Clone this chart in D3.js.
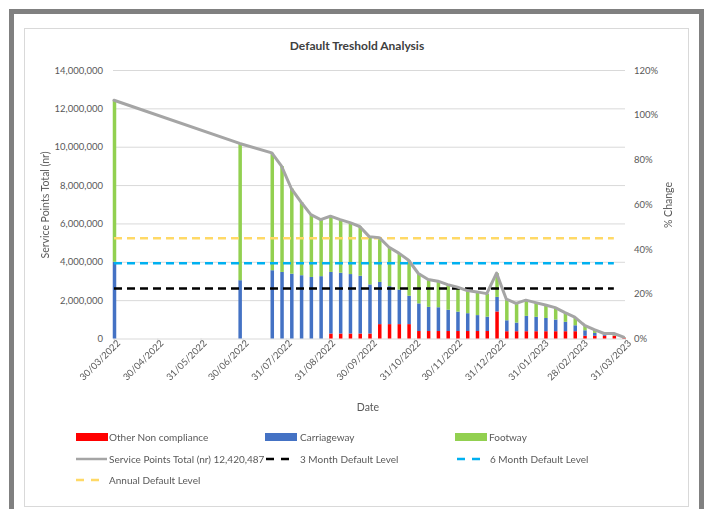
<!DOCTYPE html>
<html><head><meta charset="utf-8">
<script src="https://cdn.jsdelivr.net/npm/d3@7"></script>
<style>
html,body{margin:0;padding:0;background:#fff;}
svg{display:block;font-family:Lato,"Open Sans",sans-serif;}
.xlab text{fill:#595959;}
</style></head><body>
<svg id="chart" width="709" height="509"></svg>
<script>
// ---------- DATA ----------
const dates = ["2022-03-30","2022-06-28","2022-07-21","2022-07-28","2022-08-04","2022-08-11","2022-08-18","2022-08-25",
  "2022-09-01","2022-09-08","2022-09-15","2022-09-22","2022-09-29","2022-10-06","2022-10-13","2022-10-20","2022-10-27",
  "2022-11-03","2022-11-10","2022-11-17","2022-11-24","2022-12-01","2022-12-08","2022-12-15","2022-12-22","2022-12-29",
  "2023-01-05","2023-01-12","2023-01-19","2023-01-26","2023-02-02","2023-02-09","2023-02-16","2023-02-23",
  "2023-03-02","2023-03-09","2023-03-16","2023-03-23","2023-03-30"];
const otherNonCompliance = [0,0,0,0,0,0,0,0,
  260000,260000,260000,260000,260000,750000,750000,750000,750000,
  390000,390000,390000,390000,390000,390000,390000,390000,1410000,
  380000,380000,380000,380000,380000,380000,380000,380000,
  140000,140000,140000,140000,30000];
const carriageway = [4000000,3040000,3560000,3470000,3380000,3300000,3210000,3250000,
  3210000,3170000,3100000,3010000,2560000,2200000,1980000,1800000,1480000,
  1440000,1260000,1240000,1110000,1010000,930000,830000,750000,760000,
  570000,450000,800000,750000,690000,610000,490000,310000,
  290000,150000,60000,20000,20000];
const footway = [8420487,7130000,6120000,5520000,4440000,3810000,3250000,2950000,
  2910000,2770000,2680000,2570000,2480000,2310000,2030000,1900000,1850000,
  1560000,1430000,1360000,1310000,1280000,1180000,1210000,1200000,1240000,
  1100000,1000000,820000,740000,680000,620000,480000,420000,
  260000,170000,60000,100000,20000];
const levelDates = ["2022-03-30","2023-03-23"];
const threeMonthLevel = 2610000;
const sixMonthLevel = 3930000;
const annualLevel = 5230000;
const xTickLabels = ["30/03/2022","30/04/2022","31/05/2022","30/06/2022","31/07/2022","31/08/2022","30/09/2022",
  "31/10/2022","30/11/2022","31/12/2022","31/01/2023","28/02/2023","31/03/2023"];
const leftTicks = [0,2000000,4000000,6000000,8000000,10000000,12000000,14000000];
const rightTicks = [0,0.2,0.4,0.6,0.8,1.0,1.2];
const seriesNames = ["Other Non compliance","Carriageway","Footway"];
const title = "Default Treshold Analysis";

// ---------- SETUP ----------
const parseISO = d3.timeParse("%Y-%m-%d");
const parseDMY = d3.timeParse("%d/%m/%Y");
const svg = d3.select("#chart");
const textCol = "#595959";

const x = d3.scaleTime().domain([parseDMY(xTickLabels[0]), parseDMY(xTickLabels[xTickLabels.length-1])]).range([114, 625]);
const y = d3.scaleLinear().domain([0, 14000000]).range([338.5, 70]);
const y2 = d3.scaleLinear().domain([0, 1.2]).range([338.5, 70]);

const rows = dates.map((d,i)=>({date: parseISO(d), other: otherNonCompliance[i], carriageway: carriageway[i], footway: footway[i]}));
rows.forEach(r => r.total = r.other + r.carriageway + r.footway);

// frames
svg.append("rect").attr("x",0).attr("y",0).attr("width",709).attr("height",509).attr("fill","#fff");
svg.append("rect").attr("x",11.5).attr("y",11.5).attr("width",690).attr("height",530)
  .attr("fill","none").attr("stroke","#808080").attr("stroke-width",5);
svg.append("rect").attr("x",24.5).attr("y",28.5).attr("width",664).attr("height",478)
  .attr("fill","#fff").attr("stroke","#D9D9D9").attr("stroke-width",1);

// title
svg.append("text").attr("x",357).attr("y",50).attr("text-anchor","middle")
  .attr("font-size",12).attr("font-weight","bold").attr("fill","#404040").text(title);

// gridlines
const grid = svg.append("g").attr("transform","translate(113,0)")
  .call(d3.axisLeft(y).tickValues(leftTicks.slice(1)).tickSize(-512).tickFormat(""));
grid.select(".domain").remove();
grid.selectAll("line").attr("stroke","#D9D9D9");

// left axis labels
const ya = svg.append("g").attr("transform","translate(106,0)")
  .call(d3.axisLeft(y).tickValues(leftTicks).tickSize(0).tickFormat(d3.format(",")));
ya.select(".domain").remove();
ya.selectAll("text").attr("font-size",9.5).attr("fill",textCol).attr("font-family","Lato");

// right axis labels
const y2a = svg.append("g").attr("transform","translate(634,0)")
  .call(d3.axisRight(y2).tickValues(rightTicks).tickSize(0).tickFormat(d3.format(".0%")));
y2a.select(".domain").remove();
y2a.selectAll("text").attr("font-size",9.5).attr("fill",textCol).attr("font-family","Lato").attr("x",0);

// x axis
const xa = svg.append("g").attr("class","xlab").attr("transform",`translate(0,${y(0)})`)
  .style("opacity",0.99)
  .call(d3.axisBottom(x).tickValues(xTickLabels.map(parseDMY)).tickSize(5).tickSizeOuter(0).tickFormat(d3.timeFormat("%d/%m/%Y")));
xa.select(".domain").attr("stroke","#D9D9D9").attr("d","M113,0.5H625");
xa.selectAll(".tick line").attr("stroke","#D9D9D9");
xa.selectAll("text").attr("font-size",9.5).attr("fill",textCol).attr("font-family","Lato")
  .attr("text-anchor","end").attr("transform","translate(4,3) rotate(-45)").attr("x",0).attr("y",0).attr("dy","0.35em");

// axis titles
const titles = svg.append("g").style("opacity",0.99).attr("font-size",10.5).attr("fill",textCol);
titles.append("text").attr("transform","translate(49,205) rotate(-90)").attr("text-anchor","middle")
  .text("Service Points Total (nr)");
titles.append("text").attr("transform","translate(672,205) rotate(-90)").attr("text-anchor","middle")
  .text("% Change");
svg.append("text").attr("x",368).attr("y",411).attr("text-anchor","middle")
  .attr("font-size",10.5).attr("fill",textCol).text("Date");

// stacked bars
const colors = {other:"#FF0000", carriageway:"#4472C4", footway:"#92D050"};
const stack = d3.stack().keys(["other","carriageway","footway"])(rows);
const bw = 3.5;
svg.append("g").selectAll("g").data(stack).join("g").attr("fill", s => colors[s.key])
  .selectAll("rect").data(s => s.filter(p => p[1] - p[0] > 0)).join("rect")
  .attr("x", p => x(p.data.date) - bw/2 + 0.5).attr("width", bw)
  .attr("y", p => y(p[1])).attr("height", p => y(p[0]) - y(p[1]));

// default level lines
const levels = [
  {v: annualLevel, c:"#FFD966"},
  {v: sixMonthLevel, c:"#00B0F0"},
  {v: threeMonthLevel, c:"#000000"}
];
levels.forEach(l => {
  svg.append("path").datum(levelDates.map(parseISO))
    .attr("d", d3.line().x(d => x(d)).y(() => y(l.v)))
    .attr("stroke", l.c).attr("stroke-width", 2.5).attr("stroke-dasharray","8,5").attr("fill","none");
});

// total line
svg.append("path").datum(rows)
  .attr("d", d3.line().x(d => x(d.date)).y(d => y(d.total)))
  .attr("stroke","#A5A5A5").attr("stroke-width",3).attr("fill","none")
  .attr("stroke-linejoin","round").attr("stroke-linecap","round");

// legend
const lg = svg.append("g").attr("font-size",10).attr("fill",textCol);
const sw = [
  {x:76, col:colors.other, label:seriesNames[0], tx:109, row:0},
  {x:265, col:colors.carriageway, label:seriesNames[1], tx:300, row:0},
  {x:455, col:colors.footway, label:seriesNames[2], tx:489, row:0}
];
const rowY = [437, 459, 480];
sw.forEach(s => {
  lg.append("rect").attr("x",s.x).attr("y",rowY[s.row]-4).attr("width",32).attr("height",8).attr("fill",s.col);
  lg.append("text").attr("x",s.tx).attr("y",rowY[s.row]).attr("dy","0.35em").text(s.label);
});
const totalLabel = "Service Points Total (nr) " + d3.format(",")(rows[0].total);
const ll = [
  {x:76, len:31, col:"#A5A5A5", dash:null, label: totalLabel, tx:109, row:1},
  {x:266, len:23, col:"#000000", dash:"8,7", label:"3 Month Default Level", tx:300, row:1},
  {x:457, len:23, col:"#00B0F0", dash:"8,7", label:"6 Month Default Level", tx:490, row:1},
  {x:76, len:23, col:"#FFD966", dash:"8,7", label:"Annual Default Level", tx:109, row:2}
];
ll.forEach(s => {
  const ln = lg.append("line").attr("x1",s.x).attr("x2",s.x+s.len).attr("y1",rowY[s.row]).attr("y2",rowY[s.row])
    .attr("stroke",s.col).attr("stroke-width",2.5);
  if (s.dash) ln.attr("stroke-dasharray",s.dash);
  lg.append("text").attr("x",s.tx).attr("y",rowY[s.row]).attr("dy","0.35em").text(s.label);
});
</script>
</body></html>
